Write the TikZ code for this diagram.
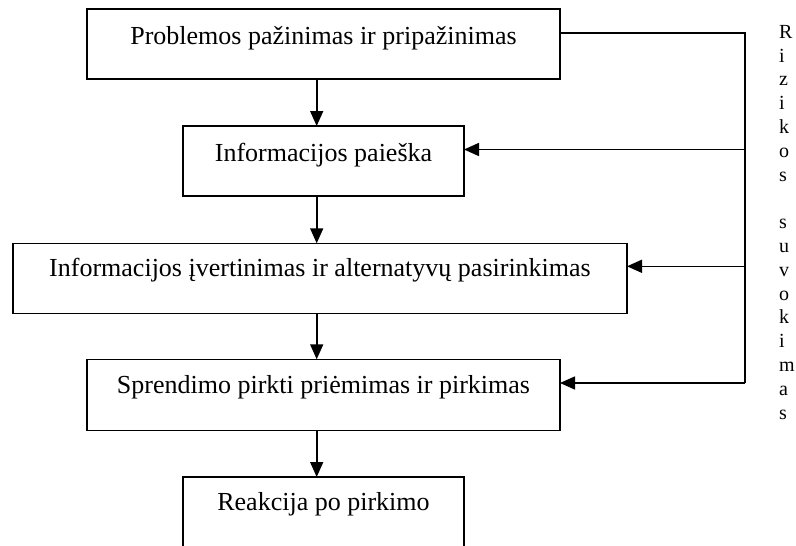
\documentclass[tikz,border=0pt]{standalone}
\usepackage{fontspec}
\setmainfont{Liberation Serif}
\usetikzlibrary{arrows.meta}
\begin{document}
\begin{tikzpicture}[x=1pt,y=-1pt,
  stage/.style={draw=black, line width=1.6pt, inner sep=0pt, outer sep=0pt,
    minimum height=70pt, anchor=north west},
  caption/.style={font=\fontsize{26}{30}\selectfont, anchor=base, inner sep=0pt},
  link/.style={draw=black, line width=1.6pt},
  flow/.style={link, -{Triangle[length=15pt,width=13pt]}}]
\useasboundingbox (0,0) rectangle (796,546);
\clip (0,0) rectangle (796,546);

% stages of the decision process
\node[stage, minimum width=473pt] (b1) at (87,9) {};
\node[stage, minimum width=281pt] (b2) at (183,126) {};
\node[stage, minimum width=614pt] (b3) at (13,243.3) {};
\node[stage, minimum width=473pt, minimum height=71pt] (b4) at (87,359.3) {};
\node[stage, minimum width=281pt, minimum height=100pt] (b5) at (183,477) {};

% stage captions, set on a common baseline below each top edge
\node[caption] (t1) at ([yshift=-35.3pt]b1.north) {Problemos pažinimas ir pripažinimas};
\node[caption] (t2) at ([yshift=-35pt]b2.north) {Informacijos paieška};
\node[caption] (t3) at ([yshift=-33.4pt]b3.north) {Informacijos įvertinimas ir alternatyvų pasirinkimas};
\node[caption] (t4) at ([yshift=-34pt]b4.north) {Sprendimo pirkti priėmimas ir pirkimas};
\node[caption] (t5) at ([yshift=-33.7pt]b5.north) {Reakcija po pirkimo};

% main flow down the middle
\coordinate (spine) at (316.7,0);
\draw[flow] (b1.south -| spine) -- (b2.north -| spine);
\draw[flow] (b2.south -| spine) -- (b3.north -| spine);
\draw[flow] (b3.south -| spine) -- (b4.north -| spine);
\draw[flow] (b4.south -| spine) -- (b5.north -| spine);

% risk perception feedback rail on the right
\coordinate (r1) at (745,32.7);
\coordinate (r2) at (745,149.5);
\coordinate (r3) at (745,266.3);
\coordinate (r4) at (745,383);
\draw[link] (r1 -| b1.east) -- (r1) -- (r4);
\draw[flow] (r2) -- (r2 -| b2.east);
\draw[flow] (r3) -- (r3 -| b3.east);
\draw[flow] (r4) -- (r4 -| b4.east);

% vertical label, one letter per line
\node[anchor=base west, inner sep=0pt, font=\fontsize{20}{23.8}\selectfont] (risk) at (779,38.3)
  {\vtop{\baselineskip=23.8pt\halign{#\hfil\cr
   R\cr i\cr z\cr i\cr k\cr o\cr s\cr {}\cr
   s\cr u\cr v\cr o\cr k\cr i\cr m\cr a\cr s\cr}}};
\end{tikzpicture}
\end{document}
